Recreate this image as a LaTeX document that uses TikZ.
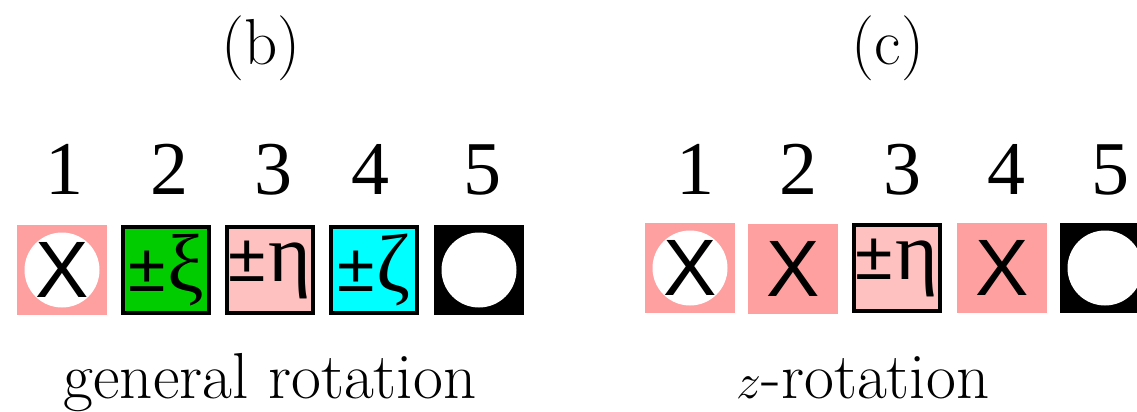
\documentclass[tikz,border=0pt]{standalone}
\usepackage{fontspec}
\usepackage{tikz}
\usetikzlibrary{positioning}
\newfontfamily\cellsans{Liberation Sans}
\newfontfamily\cellserif{Liberation Serif}
\definecolor{xpink}{RGB}{255,160,160}
\definecolor{lightpink}{RGB}{255,192,192}
\definecolor{rotgreen}{RGB}{0,204,0}
\definecolor{rotcyan}{RGB}{0,255,255}
\newcommand{\cellfont}{\fontsize{40}{40}\selectfont}
\newcommand{\pmgreek}[1]{{\cellsans\fontsize{34}{34}\selectfont\char"00B1}\kern1pt{\cellserif\fontsize{41}{41}\selectfont #1}}

\tikzset{
  cell/.style={minimum size=45pt, inner sep=0pt, outer sep=0pt},
  framedcell/.style={cell, draw=black, line width=2pt, minimum size=43pt},
  hole/.style={circle, fill=white, minimum size=37.5pt, inner sep=0pt},
  digit/.style={anchor=base, font=\cellserif\fontsize{38}{38}\selectfont},
  caption/.style={anchor=base, font=\fontsize{32.5}{36}\selectfont}
}

\begin{document}
\begin{tikzpicture}[x=0.5pt, y=-0.5pt]
  \useasboundingbox (0,0) rectangle (1137,412);

  % (b) general rotation
  \node[caption] (tb) at (261,64) {(b)};
  \node[cell, fill=xpink] (b1) at (62,270) {};
  \node[hole] at (b1) {};
  \node[font=\cellsans\cellfont] at (b1) {X};
  \node[framedcell, fill=rotgreen] (b2) at (166,270) {\pmgreek{ξ}};
  \node[framedcell, fill=lightpink] (b3) at (270,270) {\pmgreek{η}};
  \node[framedcell, fill=rotcyan] (b4) at (374,270) {\pmgreek{ζ}};
  \node[cell, fill=black] (b5) at (479,270) {};
  \node[hole] at (b5) {};
  \node[digit] (nb1) at (65,194) {1};
  \node[digit] (nb2) at (169,194) {2};
  \node[digit] (nb3) at (273,194) {3};
  \node[digit] (nb4) at (370,194) {4};
  \node[digit] (nb5) at (482,194) {5};
  \node[caption] (lb) at (270,398) {general rotation};

  % (c) z-rotation
  \node[caption] (tc) at (888,64) {(c)};
  \node[cell, fill=xpink] (c1) at (690,268) {};
  \node[hole] at (c1) {};
  \node[font=\cellsans\cellfont] at (c1) {X};
  \node[cell, fill=xpink] (c2) at (793,269) {};
  \node[font=\cellsans\cellfont] at (c2) {X};
  \node[framedcell, fill=lightpink] (c3) at (897,268) {\pmgreek{η}};
  \node[cell, fill=xpink] (c4) at (1002,268) {};
  \node[font=\cellsans\cellfont] at (c4) {X};
  \node[cell, fill=black] (c5) at (1105,268) {};
  \node[hole] at (c5) {};
  \node[digit] (nc1) at (695,194) {1};
  \node[digit] (nc2) at (798,194) {2};
  \node[digit] (nc3) at (902,194) {3};
  \node[digit] (nc4) at (1006,194) {4};
  \node[digit] (nc5) at (1110,194) {5};
  \node[caption] (lc) at (863,398) {$z$-rotation};
\end{tikzpicture}
\end{document}
